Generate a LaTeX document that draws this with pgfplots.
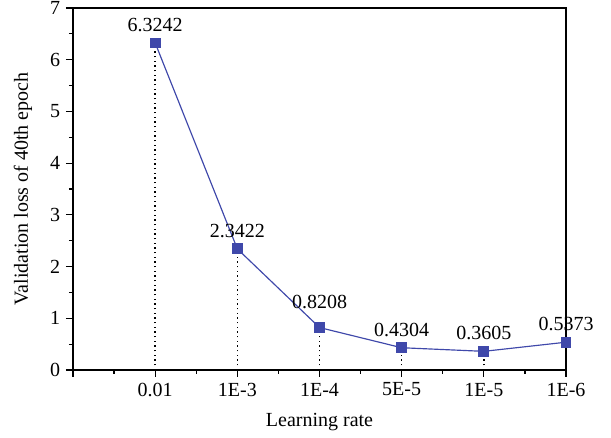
\documentclass[border=0pt]{standalone}
\usepackage{fontspec}
\setmainfont{Liberation Serif}
\usepackage{pgfplots}
\pgfplotsset{compat=1.18}
\definecolor{pt}{RGB}{63,72,170}
\begin{document}
\begin{tikzpicture}
\begin{axis}[
 name=ax,
 scale only axis, width=295.8pt, height=217.2pt,
 xmin=0, xmax=6, ymin=0, ymax=7,
 xtick={0,...,6}, xticklabels={,0.01,1E-3,1E-4,5E-5,1E-5,1E-6},
 minor xtick={0.5,1.5,...,5.5},
 ytick={0,...,7}, minor ytick={0.5,1.5,...,6.5},
 tick align=outside, tick pos=left,
 major tick length=4.2pt, minor tick length=2.4pt,
 every tick/.style={black, line width=0.7pt},
 axis line style={line width=0.9pt},
 font=\fontsize{12}{14}\selectfont,
 /pgf/number format/assume math mode=true,
 xlabel={Learning rate}, ylabel={Validation loss of 40th epoch},
 xlabel style={at={(axis description cs:0.5,0)}, anchor=center, yshift=-31.5pt},
 ylabel style={at={(axis description cs:-0.1014,0.5)}, anchor=center},
 clip=false,
]
\addplot[ycomb, dotted, black, line width=0.8pt, mark=none] coordinates {
 (1,6.3242) (2,2.3422) (3,0.8208) (4,0.4304) (5,0.3605) (6,0.5373)};
\addplot[pt, line width=0.7pt, mark=square*, mark size=2.9pt,
 mark options={fill=pt, draw=pt},
 nodes near coords, point meta=explicit symbolic,
 every node near coord/.append style={black, font=\fontsize{12}{14}\selectfont, yshift=3pt},
 coordinate style/.condition={x==3}{yshift=4.8pt}]
 coordinates {
 (1,6.3242) [6.3242]
 (2,2.3422) [2.3422]
 (3,0.8208) [0.8208]
 (4,0.4304) [0.4304]
 (5,0.3605) [0.3605]
 (6,0.5373) [0.5373]};
\end{axis}
\pgfresetboundingbox
\path ([shift={(-43.8pt,-40.8pt)}]ax.south west) rectangle ([shift={(27pt,4.8pt)}]ax.north east);
\end{tikzpicture}
\end{document}
